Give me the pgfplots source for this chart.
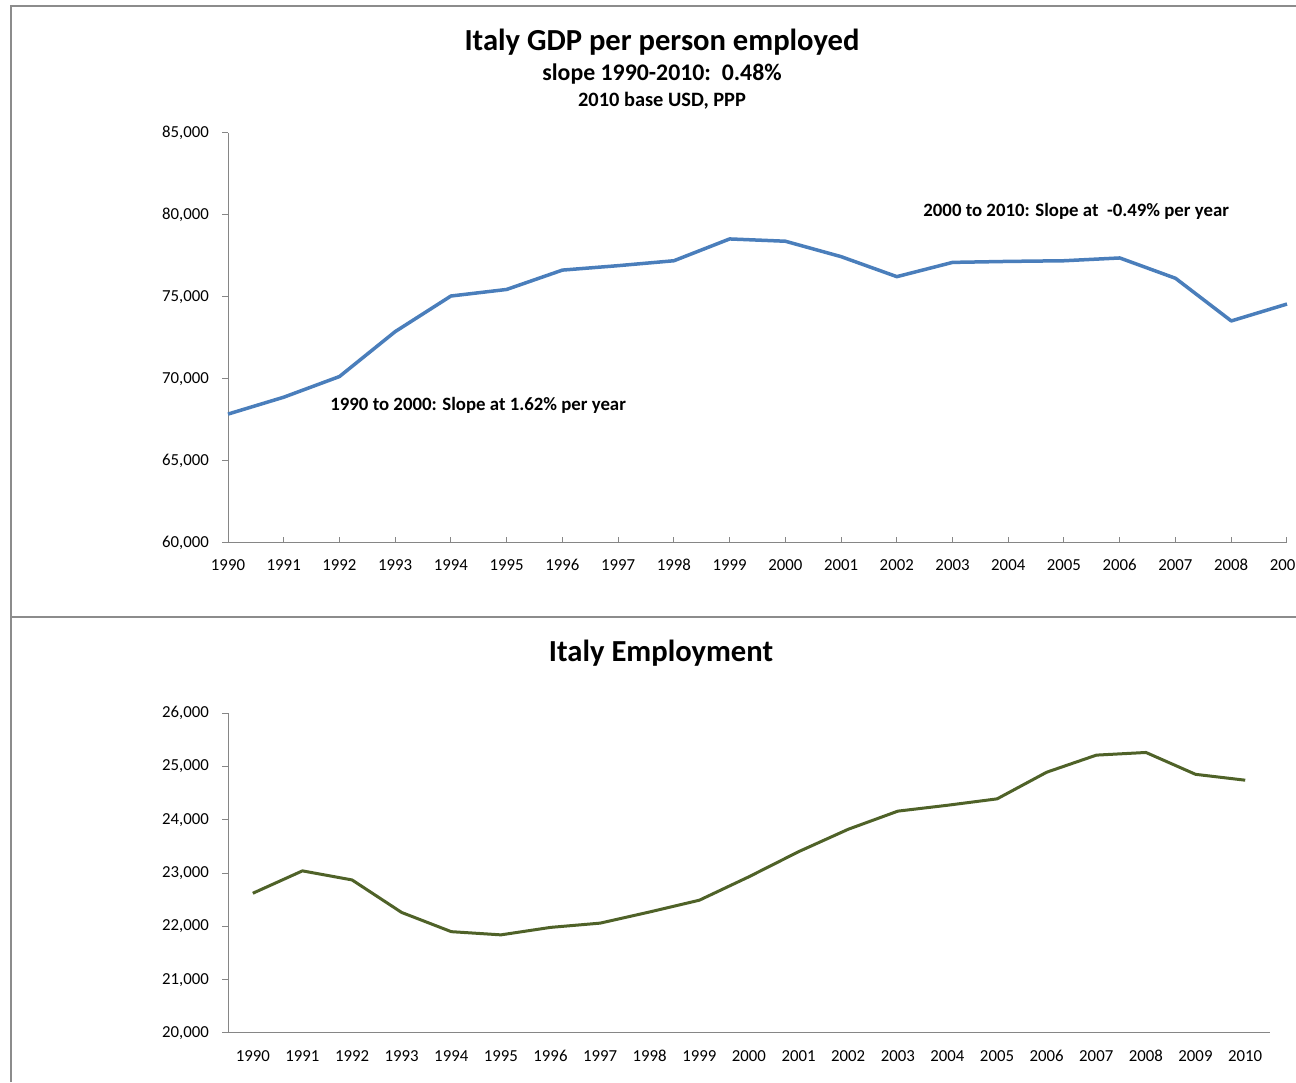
\documentclass[border=0pt]{standalone}
\usepackage{pgfplots}
\pgfplotsset{compat=1.18}
\usepackage{fontspec}
\setmainfont{Carlito}
\definecolor{lineblue}{HTML}{4A7EBB}
\definecolor{linegreen}{HTML}{4F6228}
\definecolor{axisgray}{HTML}{868686}
\definecolor{framegray}{HTML}{8C8C8C}
\begin{document}
\begin{tikzpicture}
\useasboundingbox (0,0) rectangle (648pt,541pt);
\clip (0,0) rectangle (648pt,541pt);
\fill[white] (0,0) rectangle (648pt,541pt);
% frame
\draw[framegray, line width=1pt] (5.25pt,0) -- (5.25pt,537.9pt) -- (648pt,537.9pt);
\draw[framegray, line width=1.1pt] (5.25pt,232.6pt) -- (648pt,232.6pt);
% titles
\node[font=\fontsize{15.3}{18}\selectfont\bfseries] at (331pt,520pt) {Italy GDP per person employed};
\node[font=\fontsize{11.9}{14}\selectfont\bfseries] at (331pt,504pt) {slope 1990-2010:\ \ 0.48\%};
\node[font=\fontsize{10.2}{12}\selectfont\bfseries] at (331pt,490.5pt) {2010 base USD, PPP};
\node[font=\fontsize{15.3}{18}\selectfont\bfseries] at (330.5pt,214.5pt) {Italy Employment};
% top axis
\begin{axis}[
  at={(114pt,269.5pt)}, anchor=south west,
  scale only axis, width=529.5pt, height=205pt,
  xmin=1990, xmax=2009, ymin=60000, ymax=85000,
  axis x line*=bottom, axis y line*=left,
  axis line style={axisgray, line width=0.5pt},
  xtick={1990,...,2009},
  ytick={60000,65000,...,85000},
  scaled y ticks=false,
  xtick align=inside, ytick align=outside,
  major tick length=3pt,
  tick style={axisgray, line width=0.5pt},
  /pgf/number format/.cd, 1000 sep={,}, assume math mode=true, /pgfplots/.cd,
  xticklabel style={/pgf/number format/1000 sep=, yshift=-4.5pt, text height=5.6pt, text depth=0pt},
  yticklabel style={xshift=-3pt},
  tick label style={font=\fontsize{8.4}{10}\selectfont, black},
  clip=false,
]
\addplot[lineblue, line width=1.75pt, line join=round] coordinates {
(1990,67860) (1991,68890) (1992,70150) (1993,72890) (1994,75060)
(1995,75460) (1996,76640) (1997,76910) (1998,77210) (1999,78540)
(2000,78400) (2001,77460) (2002,76240) (2003,77110) (2004,77170)
(2005,77210) (2006,77380) (2007,76140) (2008,73540) (2009,74570)
};
\end{axis}
% bottom axis
\begin{axis}[
  at={(114pt,24.5pt)}, anchor=south west,
  scale only axis, width=521pt, height=160pt,
  xmin=1989.5, xmax=2010.5, ymin=20000, ymax=26000,
  axis x line*=bottom, axis y line*=left,
  axis line style={axisgray, line width=0.5pt},
  xtick={1990,...,2010},
  minor xtick={1989.5,1990.5,...,2010.5},
  ytick={20000,21000,...,26000},
  scaled y ticks=false,
  xtick align=outside, ytick align=outside,
  major tick length=3pt, minor tick length=3pt,
  xtick style={draw=none},
  minor x tick style={axisgray, line width=0.5pt},
  ytick style={axisgray, line width=0.5pt},
  /pgf/number format/.cd, 1000 sep={,}, assume math mode=true, /pgfplots/.cd,
  xticklabel style={/pgf/number format/1000 sep=, yshift=-2pt, text height=5.6pt, text depth=0pt},
  yticklabel style={xshift=-3pt},
  tick label style={font=\fontsize{8.4}{10}\selectfont, black},
  clip=false,
]
\addplot[linegreen, line width=1.5pt, line join=round] coordinates {
(1990,22620) (1991,23040) (1992,22870) (1993,22260) (1994,21900)
(1995,21840) (1996,21980) (1997,22060) (1998,22270) (1999,22490)
(2000,22930) (2001,23400) (2002,23820) (2003,24160) (2004,24270)
(2005,24390) (2006,24890) (2007,25210) (2008,25260) (2009,24850)
(2010,24740)
};
\end{axis}
% annotations
\node[anchor=west, inner sep=0pt, font=\fontsize{9.4}{11}\selectfont\bfseries] at (165pt,338.5pt) {1990 to 2000: Slope at 1.62\% per year};
\node[anchor=west, inner sep=0pt, font=\fontsize{9.4}{11}\selectfont\bfseries] at (461.5pt,435.5pt) {2000 to 2010: Slope at\ \ -0.49\% per year};
\end{tikzpicture}
\end{document}
